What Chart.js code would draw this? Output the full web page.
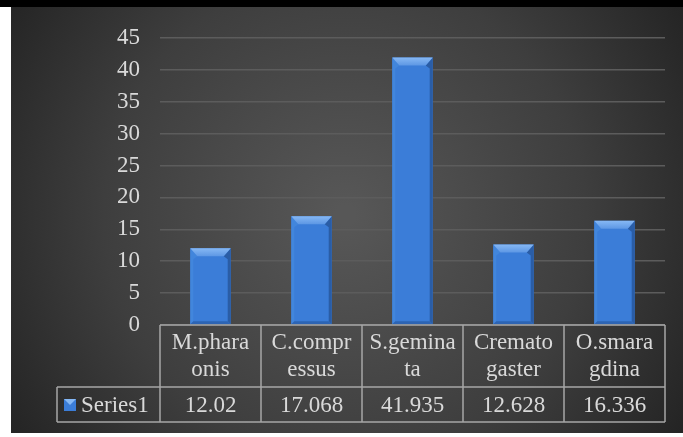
<!DOCTYPE html>
<html>
<head>
<meta charset="utf-8">
<script src="https://cdn.jsdelivr.net/npm/chart.js@4/dist/chart.umd.min.js"></script>
<style>
html,body{margin:0;padding:0;background:#fff;}
#wrap{width:683px;height:437px;position:relative;}
</style>
</head>
<body>
<div id="wrap"><canvas id="c" width="683" height="437"></canvas></div>
<script>
const categories = [["M.phara","onis"],["C.compr","essus"],["S.gemina","ta"],["Cremato","gaster"],["O.smara","gdina"]];
const seriesName = "Series1";
const seriesValues = [12.02, 17.068, 41.935, 12.628, 16.336];
const valueLabels = ["12.02", "17.068", "41.935", "12.628", "16.336"];
const yTicks = [0, 5, 10, 15, 20, 25, 30, 35, 40, 45];

const FONT = "'Liberation Serif', 'Times New Roman', serif";
const TEXT = "#d9d9d9";
const FS = 23;

const bgPlugin = {
  id: 'bg',
  beforeDraw(chart) {
    const ctx = chart.ctx, W = chart.width, H = chart.height;
    ctx.save();
    ctx.fillStyle = '#ffffff';
    ctx.fillRect(0, 0, W, H);
    const g = ctx.createRadialGradient(345, 215, 10, 345, 215, 430);
    g.addColorStop(0, '#575757');
    g.addColorStop(0.55, '#3e3e3e');
    g.addColorStop(1, '#1f1f1f');
    ctx.fillStyle = g;
    ctx.fillRect(11, 7, W - 11, 426);
    ctx.fillStyle = '#000000';
    ctx.fillRect(0, 0, W, 7);
    ctx.restore();
  }
};

const bevelPlugin = {
  id: 'bevel',
  afterDatasetsDraw(chart) {
    const ctx = chart.ctx;
    const meta = chart.getDatasetMeta(0);
    ctx.save();
    meta.data.forEach(el => {
      const p = el.getProps(['x', 'y', 'base', 'width'], true);
      const l = p.x - p.width / 2, r = p.x + p.width / 2, t = p.y, b = p.base;
      const tb = 8, sb = 3, ti = 7;
      // left edge
      ctx.fillStyle = '#4286dc';
      ctx.beginPath(); ctx.moveTo(l, t); ctx.lineTo(l + ti, t + tb); ctx.lineTo(l + sb, t + tb + 3); ctx.lineTo(l + sb, b - sb); ctx.lineTo(l, b); ctx.closePath(); ctx.fill();
      // right edge
      ctx.fillStyle = '#2a5da6';
      ctx.beginPath(); ctx.moveTo(r, t); ctx.lineTo(r - ti, t + tb); ctx.lineTo(r - sb, t + tb + 3); ctx.lineTo(r - sb, b - sb); ctx.lineTo(r, b); ctx.closePath(); ctx.fill();
      // bottom edge
      ctx.fillStyle = '#2d64b3';
      ctx.beginPath(); ctx.moveTo(l, b); ctx.lineTo(l + sb, b - sb); ctx.lineTo(r - sb, b - sb); ctx.lineTo(r, b); ctx.closePath(); ctx.fill();
      // top bevel
      const tg = ctx.createLinearGradient(0, t, 0, t + tb);
      tg.addColorStop(0, '#86b8f4');
      tg.addColorStop(1, '#5d97e4');
      ctx.fillStyle = tg;
      ctx.beginPath(); ctx.moveTo(l, t); ctx.lineTo(r, t); ctx.lineTo(r - ti, t + tb); ctx.lineTo(l + ti, t + tb); ctx.closePath(); ctx.fill();
    });
    ctx.restore();
  }
};

const tablePlugin = {
  id: 'table',
  afterDraw(chart) {
    const ctx = chart.ctx, ca = chart.chartArea, xs = chart.scales.x;
    const n = categories.length;
    const y0 = ca.bottom, y1 = y0 + 62, y2 = y1 + 35;
    const legLeft = 57;
    const edges = [];
    for (let i = 0; i < n; i++) {
      const c = xs.getPixelForValue(i);
      const half = (ca.right - ca.left) / n / 2;
      if (i === 0) edges.push(c - half);
      edges.push(c + half);
    }
    ctx.save();
    ctx.strokeStyle = '#a6a6a6';
    ctx.lineWidth = 1.5;
    ctx.beginPath();
    ctx.moveTo(edges[0], y0); ctx.lineTo(edges[n], y0);
    ctx.moveTo(legLeft, y1); ctx.lineTo(edges[n], y1);
    ctx.moveTo(legLeft, y2); ctx.lineTo(edges[n], y2);
    ctx.moveTo(legLeft, y1); ctx.lineTo(legLeft, y2);
    edges.forEach(e => { ctx.moveTo(e, y0); ctx.lineTo(e, y2); });
    ctx.stroke();

    ctx.fillStyle = TEXT;
    ctx.font = FS + 'px ' + FONT;
    ctx.textAlign = 'center';
    ctx.textBaseline = 'middle';
    for (let i = 0; i < n; i++) {
      const cx = xs.getPixelForValue(i);
      const lines = categories[i];
      ctx.fillText(lines[0], cx, y0 + 18);
      ctx.fillText(lines[1], cx, y0 + 45);
      ctx.fillText(valueLabels[i], cx, (y1 + y2) / 2 + 1);
    }
    // legend key
    const kx = 64, ky = 399, ks = 12;
    ctx.fillStyle = '#3b7dd8';
    ctx.fillRect(kx, ky, ks, ks);
    ctx.fillStyle = '#86b8f4';
    ctx.beginPath(); ctx.moveTo(kx, ky); ctx.lineTo(kx + ks, ky); ctx.lineTo(kx + ks / 2, ky + ks / 2); ctx.closePath(); ctx.fill();
    ctx.fillStyle = TEXT;
    ctx.textAlign = 'left';
    ctx.fillText(seriesName, 81, (y1 + y2) / 2 + 1);
    ctx.restore();
  }
};

new Chart(document.getElementById('c'), {
  type: 'bar',
  data: {
    labels: categories.map(c => c.join('')),
    datasets: [{
      label: seriesName,
      data: seriesValues,
      backgroundColor: '#3b7dd8',
      borderWidth: 0,
      barPercentage: 0.4,
      categoryPercentage: 1.0
    }]
  },
  options: {
    responsive: false,
    animation: false,
    devicePixelRatio: 1,
    layout: { padding: { left: 100, right: 18, top: 38, bottom: 112 } },
    plugins: { legend: { display: false }, tooltip: { enabled: false } },
    scales: {
      x: { display: false, offset: true, grid: { display: false } },
      y: {
        min: 0, max: 45,
        afterFit(scale) { scale.width = 60; },
        afterBuildTicks(scale) { scale.ticks = yTicks.map(v => ({ value: v })); },
        border: { display: false },
        grid: { color: '#5c5c5c', lineWidth: 1.5, drawTicks: false },
        ticks: { color: TEXT, font: { family: FONT, size: FS }, padding: 20 }
      }
    }
  },
  plugins: [bgPlugin, bevelPlugin, tablePlugin]
});
</script>
</body>
</html>
